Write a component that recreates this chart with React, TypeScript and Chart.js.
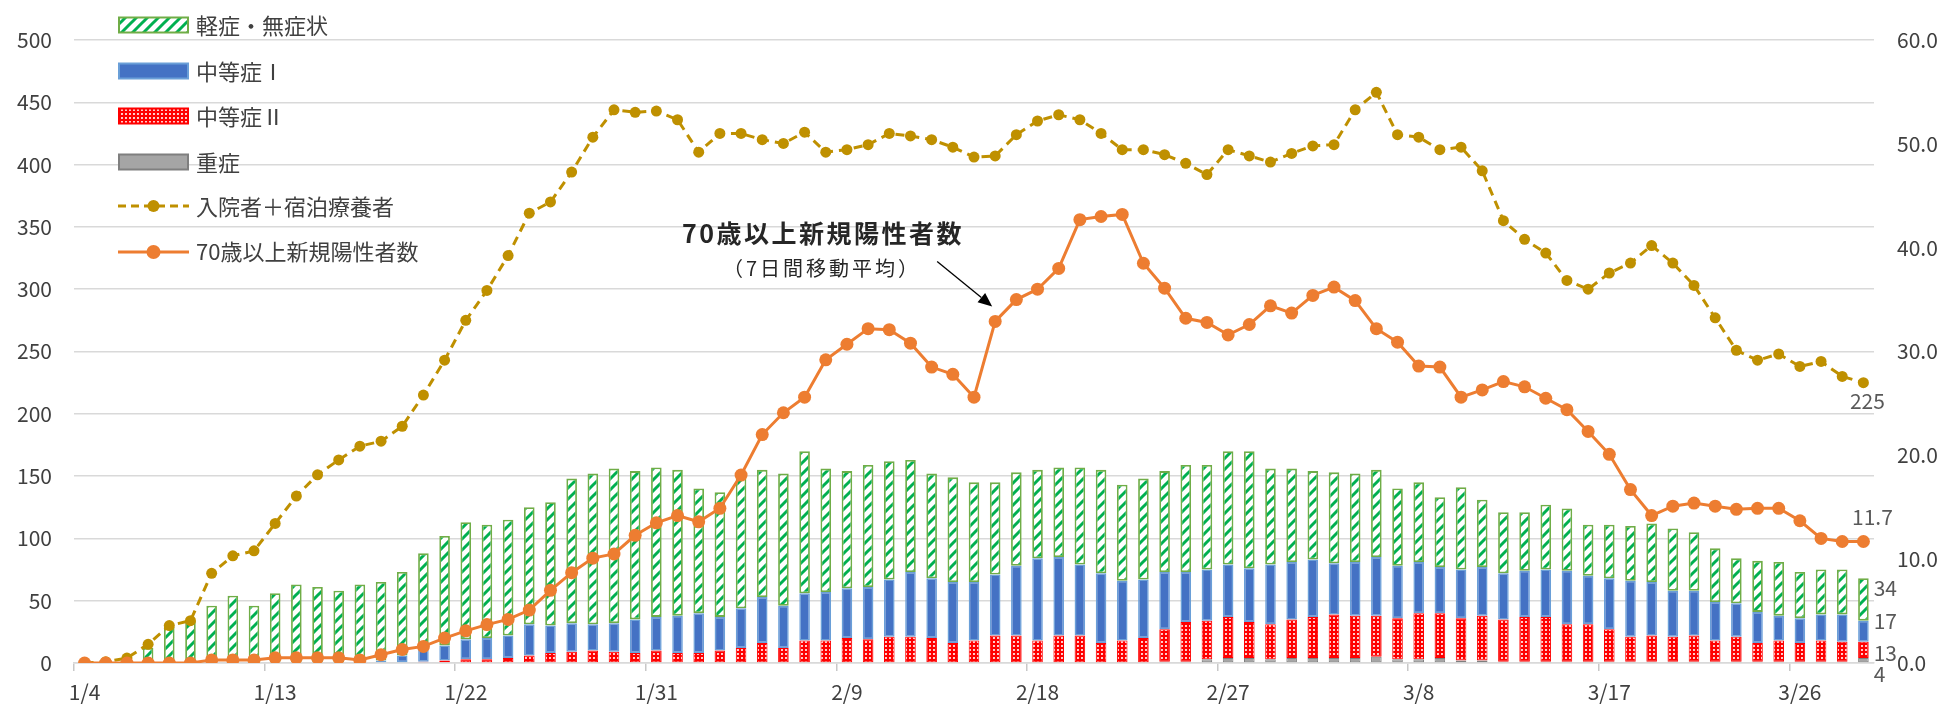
import React, { useEffect, useRef } from 'react';
import { Chart, registerables } from 'chart.js';

Chart.register(...registerables);

const CATEGORIES = [
  '1/4', '1/5', '1/6', '1/7', '1/8', '1/9', '1/10', '1/11', '1/12', '1/13', '1/14', '1/15', '1/16', '1/17',
  '1/18', '1/19', '1/20', '1/21', '1/22', '1/23', '1/24', '1/25', '1/26', '1/27', '1/28', '1/29', '1/30', '1/31',
  '2/1', '2/2', '2/3', '2/4', '2/5', '2/6', '2/7', '2/8', '2/9', '2/10', '2/11', '2/12', '2/13', '2/14',
  '2/15', '2/16', '2/17', '2/18', '2/19', '2/20', '2/21', '2/22', '2/23', '2/24', '2/25', '2/26', '2/27', '2/28',
  '3/1', '3/2', '3/3', '3/4', '3/5', '3/6', '3/7', '3/8', '3/9', '3/10', '3/11', '3/12', '3/13', '3/14',
  '3/15', '3/16', '3/17', '3/18', '3/19', '3/20', '3/21', '3/22', '3/23', '3/24', '3/25', '3/26', '3/27', '3/28', '3/29',
];

const SHOWN_TICKS = ['1/4', '1/13', '1/22', '1/31', '2/9', '2/18', '2/27', '3/8', '3/17', '3/26'];

// 重症
const SEVERE = [
  0, 0, 0, 0, 0, 0, 0, 0, 0, 0, 0, 0, 0, 0, 0, 0, 0, 0, 0, 0,
  0, 0, 0, 0, 0, 0, 0, 0, 0, 0, 0, 0, 0, 0, 0, 0, 0, 0, 0, 0,
  0, 0, 0, 0, 0, 0, 0, 0, 0, 0, 0, 1, 1, 3, 4, 4, 3, 4, 4, 4,
  4, 5, 3, 3, 4, 2, 2, 1, 1, 1, 1, 1, 1, 1, 1, 1, 1, 1, 1, 1,
  1, 1, 1, 1, 4,
];

// 中等症Ⅱ
const MODERATE2 = [
  0, 0, 0, 0, 0, 0, 0, 0, 0, 0, 0, 0, 0, 0, 0, 0, 1, 2, 3, 3,
  4, 6, 8, 9, 10, 9, 8, 10, 8, 8, 10, 12, 16, 12, 18, 18, 20, 19, 21, 21,
  20, 16, 18, 22, 22, 18, 22, 22, 16, 18, 20, 26, 32, 31, 33, 29, 28, 31, 33, 35,
  34, 33, 33, 37, 36, 34, 36, 34, 36, 36, 30, 30, 26, 20, 21, 20, 21, 17, 20, 15,
  17, 15, 17, 16, 13,
];

// 中等症Ⅰ
const MODERATE1 = [
  0, 0, 0, 0, 0, 0, 0, 0, 0, 0, 0, 0, 0, 0, 2, 6, 10, 12, 16, 17,
  18, 25, 22, 23, 21, 23, 27, 27, 30, 32, 27, 32, 37, 34, 38, 39, 40, 42, 46, 52,
  48, 49, 47, 49, 56, 66, 63, 57, 56, 48, 47, 46, 40, 41, 42, 43, 48, 46, 46, 41,
  43, 47, 42, 41, 37, 39, 39, 37, 37, 38, 43, 39, 41, 45, 43, 37, 36, 31, 27, 25,
  20, 20, 21, 22, 17,
];

// 軽症・無症状
const MILD = [
  0, 0, 3, 12, 29, 34, 46, 54, 46, 56, 63, 61, 58, 63, 63, 67, 77, 88, 94, 91,
  93, 94, 99, 116, 121, 124, 119, 120, 117, 100, 100, 108, 102, 106, 114, 99, 94, 98, 95, 90,
  84, 84, 80, 74, 75, 71, 72, 78, 83, 77, 81, 81, 86, 84, 91, 94, 77, 75, 71, 73,
  71, 70, 62, 64, 56, 66, 54, 49, 47, 52, 50, 41, 43, 44, 47, 50, 47, 43, 36, 41,
  43, 37, 36, 36, 34,
];

// 入院者＋宿泊療養者
const INPATIENTS = [
  0, 1, 4, 15, 30, 34, 72, 86, 90, 112, 134, 151, 163, 174, 178, 190, 215, 243, 275, 299,
  327, 361, 370, 394, 422, 444, 442, 443, 436, 410, 425, 425, 420, 417, 426, 410, 412, 416, 425, 423,
  420, 414, 406, 407, 424, 435, 440, 436, 425, 412, 412, 408, 401, 392, 412, 407, 402, 409, 415, 416,
  444, 458, 424, 422, 412, 414, 395, 355, 340, 329, 307, 300, 313, 321, 335, 321, 303, 277, 251, 243,
  248, 238, 242, 230, 225,
];

// 70歳以上新規陽性者数（7日間移動平均）
const ELDERLY_NEW = [
  0, 0, 0, 0, 0, 0, 0.3, 0.3, 0.3, 0.5, 0.5, 0.5, 0.5, 0.3, 0.8, 1.3, 1.6, 2.4, 3.1, 3.7,
  4.2, 5.1, 7.0, 8.7, 10.1, 10.5, 12.3, 13.5, 14.2, 13.6, 14.9, 18.1, 22.0, 24.1, 25.6, 29.2, 30.7, 32.2, 32.1, 30.8,
  28.5, 27.8, 25.6, 32.9, 35.0, 36.0, 38.0, 42.7, 43.0, 43.2, 38.5, 36.1, 33.2, 32.8, 31.6, 32.6, 34.4, 33.7, 35.4, 36.2,
  34.9, 32.2, 30.9, 28.6, 28.5, 25.6, 26.3, 27.1, 26.6, 25.5, 24.4, 22.3, 20.1, 16.7, 14.2, 15.1, 15.4, 15.1, 14.8, 14.9,
  14.9, 13.7, 12.0, 11.7, 11.7,
];

const LABEL_MILD = '軽症・無症状';
const LABEL_MOD1 = '中等症Ⅰ';
const LABEL_MOD2 = '中等症Ⅱ';
const LABEL_SEVERE = '重症';
const LABEL_INPAT = '入院者＋宿泊療養者';
const LABEL_ELDERLY = '70歳以上新規陽性者数';
const ANNOT_MAIN = '70歳以上新規陽性者数';
const ANNOT_SUB = '（7日間移動平均）';
const ANNOT_INDEX = 43;

const FONT = "'Noto Sans CJK JP', 'Noto Sans', sans-serif";
const AXIS_COLOR = '#404040';
const GRID_COLOR = '#d9d9d9';
const GOLD = '#BF9000';
const ORANGE = '#ED7D31';
const BLUE = '#4472C4';
const BLUE_EDGE = '#6A9FD8';
const RED = '#FF0000';
const GREEN = '#00B050';
const GREEN_EDGE = '#70AD47';
const GRAY = '#A5A5A5';
const GRAY_EDGE = '#7F7F7F';

function makePattern(ctx: CanvasRenderingContext2D, size: number, draw: (c: CanvasRenderingContext2D) => void) {
  const cv = document.createElement('canvas');
  cv.width = size;
  cv.height = size;
  const c = cv.getContext('2d') as CanvasRenderingContext2D;
  draw(c);
  return ctx.createPattern(cv, 'repeat') as CanvasPattern;
}

export default function App() {
  const ref = useRef<HTMLCanvasElement | null>(null);

  useEffect(() => {
    document.body.style.margin = '0';
    const canvas = ref.current;
    if (!canvas) return;
    const mainCtx = canvas.getContext('2d') as CanvasRenderingContext2D;

    const T = 11;
    const hatch = makePattern(mainCtx, T, (c) => {
      c.fillStyle = '#ffffff';
      c.fillRect(0, 0, T, T);
      c.strokeStyle = GREEN;
      c.lineWidth = 3;
      c.beginPath();
      c.moveTo(0, T); c.lineTo(T, 0);
      c.moveTo(-T / 2, T / 2); c.lineTo(T / 2, -T / 2);
      c.moveTo(T / 2, T * 1.5); c.lineTo(T * 1.5, T / 2);
      c.stroke();
    });
    const dots = makePattern(mainCtx, 4, (c) => {
      c.fillStyle = RED;
      c.fillRect(0, 0, 4, 4);
      c.fillStyle = '#ffffff';
      c.beginPath();
      c.arc(2, 2, 1.05, 0, Math.PI * 2);
      c.fill();
    });

    const overlay = {
      id: 'overlay',
      afterDatasetsDraw(chart: any) {
        const ctx = chart.ctx as CanvasRenderingContext2D;
        ctx.save();

        // ---- end labels of bars (last category) ----
        const last = CATEGORIES.length - 1;
        const barSets = [
          { idx: 0, text: String(SEVERE[last]), dy: 14 },
          { idx: 1, text: String(MODERATE2[last]), dy: 3 },
          { idx: 2, text: String(MODERATE1[last]), dy: -10 },
          { idx: 3, text: String(MILD[last]), dy: -11 },
        ];
        ctx.font = `21px ${FONT}`;
        ctx.fillStyle = '#595959';
        ctx.textAlign = 'left';
        ctx.textBaseline = 'middle';
        barSets.forEach((b) => {
          const el: any = chart.getDatasetMeta(b.idx).data[last];
          if (!el) return;
          const cy = (el.y + el.base) / 2 + b.dy;
          ctx.fillText(b.text, el.x + el.width / 2 + 5, cy);
        });

        // line end labels
        const gp: any = chart.getDatasetMeta(4).data[last];
        const op: any = chart.getDatasetMeta(5).data[last];
        ctx.textAlign = 'center';
        if (gp) ctx.fillText(String(INPATIENTS[last]), gp.x + 4, gp.y + 18);
        if (op) ctx.fillText(ELDERLY_NEW[last].toFixed(1), op.x + 9, op.y - 24);

        // ---- annotation ----
        ctx.fillStyle = '#262626';
        ctx.textAlign = 'center';
        (ctx as any).letterSpacing = '2.5px';
        ctx.font = `bold 25px ${FONT}`;
        ctx.fillText(ANNOT_MAIN, 823, 233);
        (ctx as any).letterSpacing = '3px';
        ctx.font = `20px ${FONT}`;
        ctx.fillText(ANNOT_SUB, 822, 268);
        (ctx as any).letterSpacing = '0px';

        const ap: any = chart.getDatasetMeta(5).data[ANNOT_INDEX];
        if (ap) {
          const tx = ap.x - 3;
          const ty = ap.y - 15;
          const sx = tx - 55;
          const sy = ty - 45;
          const ang = Math.atan2(ty - sy, tx - sx);
          const hl = 14;
          const hw = 6;
          const bx = tx - hl * Math.cos(ang);
          const by = ty - hl * Math.sin(ang);
          ctx.strokeStyle = '#000000';
          ctx.lineWidth = 1.3;
          ctx.beginPath();
          ctx.moveTo(sx, sy);
          ctx.lineTo(bx, by);
          ctx.stroke();
          ctx.fillStyle = '#000000';
          ctx.beginPath();
          ctx.moveTo(tx, ty);
          ctx.lineTo(bx + hw * Math.sin(ang), by - hw * Math.cos(ang));
          ctx.lineTo(bx - hw * Math.sin(ang), by + hw * Math.cos(ang));
          ctx.closePath();
          ctx.fill();
        }

        // ---- legend ----
        const sx0 = 119;
        const sw = 69;
        const sh = 15;
        const tx0 = 196;
        ctx.font = `22px ${FONT}`;
        ctx.textAlign = 'left';
        ctx.textBaseline = 'middle';
        const boxes = [
          { y: 25, fill: hatch as any, edge: GREEN_EDGE, text: LABEL_MILD },
          { y: 71, fill: BLUE as any, edge: BLUE_EDGE, text: LABEL_MOD1 },
          { y: 116, fill: dots as any, edge: RED, text: LABEL_MOD2 },
          { y: 162, fill: GRAY as any, edge: GRAY_EDGE, text: LABEL_SEVERE },
        ];
        boxes.forEach((b) => {
          ctx.fillStyle = b.fill;
          ctx.fillRect(sx0, b.y - sh / 2, sw, sh);
          ctx.strokeStyle = b.edge;
          ctx.lineWidth = 2;
          ctx.strokeRect(sx0, b.y - sh / 2, sw, sh);
          ctx.fillStyle = AXIS_COLOR;
          ctx.fillText(b.text, tx0, b.y + 1);
        });
        // gold dashed line item
        ctx.strokeStyle = GOLD;
        ctx.lineWidth = 3;
        ctx.setLineDash([8, 5]);
        ctx.beginPath();
        ctx.moveTo(118, 206);
        ctx.lineTo(189, 206);
        ctx.stroke();
        ctx.setLineDash([]);
        ctx.fillStyle = GOLD;
        ctx.beginPath();
        ctx.arc(153.5, 206, 6, 0, Math.PI * 2);
        ctx.fill();
        ctx.fillStyle = AXIS_COLOR;
        ctx.fillText(LABEL_INPAT, tx0, 207);
        // orange line item
        ctx.strokeStyle = ORANGE;
        ctx.lineWidth = 3;
        ctx.beginPath();
        ctx.moveTo(118, 252);
        ctx.lineTo(189, 252);
        ctx.stroke();
        ctx.fillStyle = ORANGE;
        ctx.beginPath();
        ctx.arc(153.5, 252, 7, 0, Math.PI * 2);
        ctx.fill();
        ctx.fillStyle = AXIS_COLOR;
        ctx.fillText(LABEL_ELDERLY, tx0, 252);

        ctx.restore();
      },
    };

    const barCommon = {
      type: 'bar' as const,
      yAxisID: 'y',
      stack: 'patients',
      barPercentage: 0.5,
      categoryPercentage: 1.0,
      borderSkipped: false as const,
      order: 2,
    };

    const chart = new Chart(canvas, {
      type: 'bar',
      data: {
        labels: CATEGORIES,
        datasets: [
          { ...barCommon, label: LABEL_SEVERE, data: SEVERE, backgroundColor: GRAY, borderColor: GRAY_EDGE, borderWidth: 1 },
          { ...barCommon, label: LABEL_MOD2, data: MODERATE2, backgroundColor: dots, borderColor: RED, borderWidth: 1 },
          { ...barCommon, label: LABEL_MOD1, data: MODERATE1, backgroundColor: BLUE, borderColor: BLUE_EDGE, borderWidth: 1.5 },
          { ...barCommon, label: LABEL_MILD, data: MILD, backgroundColor: hatch, borderColor: GREEN_EDGE, borderWidth: 1.8 },
          {
            type: 'line',
            label: LABEL_INPAT,
            data: INPATIENTS,
            yAxisID: 'y',
            borderColor: GOLD,
            backgroundColor: GOLD,
            borderWidth: 3,
            borderDash: [9, 6],
            pointRadius: 5.5,
            pointBackgroundColor: GOLD,
            pointBorderWidth: 0,
            tension: 0,
            order: 1,
          },
          {
            type: 'line',
            label: LABEL_ELDERLY,
            data: ELDERLY_NEW,
            yAxisID: 'y1',
            borderColor: ORANGE,
            backgroundColor: ORANGE,
            borderWidth: 3,
            pointRadius: 6.5,
            pointBackgroundColor: ORANGE,
            pointBorderWidth: 0,
            tension: 0,
            order: 0,
          },
        ] as any,
      },
      options: {
        responsive: false,
        maintainAspectRatio: false,
        devicePixelRatio: 1,
        animation: false,
        layout: { padding: { top: 40, left: 0, right: 0, bottom: 0 } },
        plugins: {
          legend: { display: false },
          tooltip: { enabled: false },
          title: { display: false },
        },
        scales: {
          x: {
            stacked: true,
            offset: true,
            grid: {
              offset: true,
              drawOnChartArea: false,
              drawTicks: true,
              tickLength: 8,
              lineWidth: 1.5,
              color: (c: any) => (SHOWN_TICKS.includes(CATEGORIES[c.index]) ? '#c8c8c8' : 'rgba(0,0,0,0)'),
            },
            border: { display: true, color: GRID_COLOR, width: 1.5 },
            ticks: {
              autoSkip: false,
              maxRotation: 0,
              minRotation: 0,
              padding: 8,
              color: AXIS_COLOR,
              font: { family: FONT, size: 21 },
              callback: (_v: any, i: number) => (SHOWN_TICKS.includes(CATEGORIES[i]) ? CATEGORIES[i] : ''),
            },
            afterFit: (s: any) => { s.height = 43; },
          },
          y: {
            stacked: true,
            position: 'left',
            min: 0,
            max: 500,
            ticks: {
              stepSize: 50,
              padding: 22,
              color: AXIS_COLOR,
              font: { family: FONT, size: 21 },
            },
            grid: { color: GRID_COLOR, lineWidth: 1.5, drawTicks: false },
            border: { display: false },
            afterFit: (s: any) => { s.width = 74; },
          },
          y1: {
            position: 'right',
            min: 0,
            max: 60,
            ticks: {
              stepSize: 10,
              padding: 23,
              color: AXIS_COLOR,
              font: { family: FONT, size: 21 },
              callback: (v: any) => Number(v).toFixed(1),
            },
            grid: { drawOnChartArea: false, drawTicks: false },
            border: { display: false },
            afterFit: (s: any) => { s.width = 70; },
          },
        },
      } as any,
      plugins: [overlay],
    });

    return () => chart.destroy();
  }, []);

  return (
    <div style={{ width: 1944, height: 706, position: 'relative', background: '#ffffff' }}>
      <canvas ref={ref} width={1944} height={706} style={{ display: 'block' }} />
    </div>
  );
}
